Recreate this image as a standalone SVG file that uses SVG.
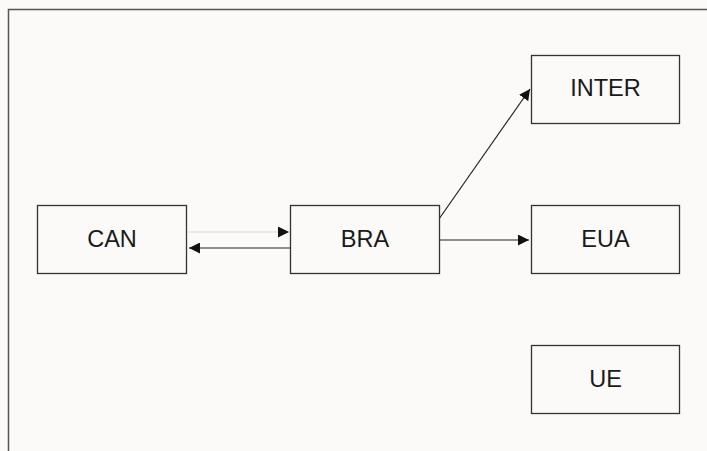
<svg xmlns="http://www.w3.org/2000/svg" width="707" height="451" viewBox="0 0 707 451">
<style>
.box{fill:#fbfaf8;stroke:#333;stroke-width:1.3}
.lbl{font-family:"Liberation Sans",Arial,sans-serif;font-size:23.5px;fill:#1a1a1a;text-anchor:middle}
.c{stroke:#222;stroke-width:1.2;fill:none}
</style>
<defs>
<marker id="ah" viewBox="0 0 10 10" refX="10" refY="5" markerWidth="11" markerHeight="11" markerUnits="userSpaceOnUse" orient="auto"><path d="M0,0L10,5L0,10z" fill="#111"/></marker>
</defs>
<rect width="707" height="451" fill="#fbfaf8"/>
<rect x="8.5" y="9.5" width="710" height="460" fill="none" stroke="#555" stroke-width="1.5"/>
<g id="connectors">
<line class="c" x1="188" y1="232" x2="289" y2="232" style="stroke:#d8d8d8" marker-end="url(#ah)"/>
<line class="c" x1="290" y1="248" x2="189" y2="248" marker-end="url(#ah)"/>
<line class="c" x1="439" y1="219" x2="530" y2="89" marker-end="url(#ah)"/>
<line class="c" x1="439" y1="240" x2="529" y2="240" marker-end="url(#ah)"/>
</g>
<g id="CAN"><rect class="box" x="37.5" y="205.5" width="149" height="68"/><text class="lbl" x="112" y="246.5">CAN</text></g>
<g id="BRA"><rect class="box" x="290.5" y="205.5" width="149" height="68"/><text class="lbl" x="365" y="246.5">BRA</text></g>
<g id="INTER"><rect class="box" x="531.5" y="55.5" width="148" height="68"/><text class="lbl" x="605.5" y="96">INTER</text></g>
<g id="EUA"><rect class="box" x="531.5" y="205.5" width="148" height="68"/><text class="lbl" x="605.5" y="246.5">EUA</text></g>
<g id="UE"><rect class="box" x="531.5" y="345.5" width="148" height="68"/><text class="lbl" x="605.5" y="387">UE</text></g>
</svg>
